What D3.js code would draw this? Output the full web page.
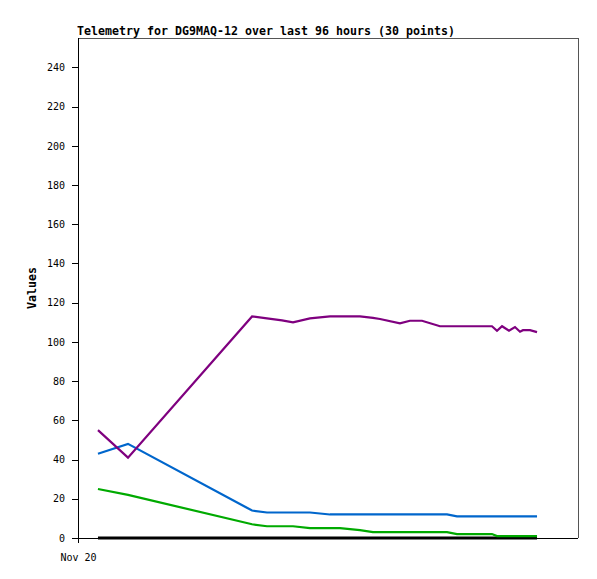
<!DOCTYPE html>
<html>
<head>
<meta charset="utf-8">
<script src="https://cdn.jsdelivr.net/npm/d3@7"></script>
<style>
  body { margin: 0; background: #fff; }
  text { font-family: "DejaVu Sans Mono", monospace; }
</style>
</head>
<body>
<div id="chart"></div>
<script>
// sample times (30 points)
const times = [
  "2023-11-20T03:50", "2023-11-20T09:36", "2023-11-21T09:25", "2023-11-21T12:17",
  "2023-11-21T15:10", "2023-11-21T17:17", "2023-11-21T20:32", "2023-11-22T00:23",
  "2023-11-22T02:18", "2023-11-22T06:08", "2023-11-22T08:38", "2023-11-22T09:59",
  "2023-11-22T13:49", "2023-11-22T15:44", "2023-11-22T18:03", "2023-11-22T21:30",
  "2023-11-22T22:51", "2023-11-23T00:46", "2023-11-23T02:18", "2023-11-23T04:13",
  "2023-11-23T06:18", "2023-11-23T07:29", "2023-11-23T08:27", "2023-11-23T09:25",
  "2023-11-23T10:45", "2023-11-23T11:54", "2023-11-23T12:52", "2023-11-23T13:26",
  "2023-11-23T14:47", "2023-11-23T16:08"
];

const purple = [55, 41, 113, 112, 111, 110, 112, 113, 113, 113, 112.3, 111.7,
  109.5, 110.8, 110.8, 108, 108, 108, 108, 108, 108, 108, 105.7, 108, 105.7,
  107.6, 105.2, 106, 106, 105];
const blue = [43, 48, 14, 13, 13, 13, 13, 12, 12, 12, 12, 12, 12, 12, 12, 12,
  12, 11, 11, 11, 11, 11, 11, 11, 11, 11, 11, 11, 11, 11];
const green = [25, 22, 7, 6, 6, 6, 5, 5, 5, 4, 3, 3, 3, 3, 3, 3, 3, 2, 2, 2, 2,
  2, 1, 1, 1, 1, 1, 1, 1, 1];
const black = [0, 0, 0, 0, 0, 0, 0, 0, 0, 0, 0, 0, 0, 0, 0, 0, 0, 0, 0, 0, 0,
  0, 0, 0, 0, 0, 0, 0, 0, 0];

const yTicks = [0, 20, 40, 60, 80, 100, 120, 140, 160, 180, 200, 220, 240];
const xTickLabels = ["Nov 20"];
const xTickDates = ["2023-11-20T00:00"];

const seriesList = [
  { name: "black", values: black, color: "#000000" },
  { name: "green", values: green, color: "#00aa00" },
  { name: "blue", values: blue, color: "#0066cc" },
  { name: "purple", values: purple, color: "#7f007f" }
];

const width = 597, height = 579;
const margin = { top: 38, right: 19, bottom: 41, left: 78 };
const parse = d3.timeParse("%Y-%m-%dT%H:%M");

const svg = d3.select("#chart").append("svg")
    .attr("width", width)
    .attr("height", height);

const xScale = d3.scaleTime()
    .domain([parse("2023-11-20T00:00"), parse("2023-11-24T00:00")])
    .range([margin.left, width - margin.right]);

const yScale = d3.scaleLinear()
    .domain([0, 255])
    .range([height - margin.bottom, margin.top]);

// frame (top & right in grey)
svg.append("path")
    .attr("d", `M${margin.left},${margin.top}H${width - margin.right}V${height - margin.bottom}`)
    .attr("fill", "none")
    .attr("stroke", "#555")
    .attr("stroke-width", 1)
    .attr("shape-rendering", "crispEdges");

// y axis
const yAxis = svg.append("g")
    .attr("transform", `translate(${margin.left},0)`)
    .call(d3.axisLeft(yScale).tickValues(yTicks).tickSize(6).tickPadding(7).tickSizeOuter(0));
yAxis.select(".domain").attr("d", `M0.5,${margin.top}V${height - margin.bottom + 5}`);

// x axis
const xAxis = svg.append("g")
    .attr("transform", `translate(0,${height - margin.bottom})`)
    .call(d3.axisBottom(xScale)
      .tickValues(xTickDates.map(parse))
      .tickFormat((d, i) => xTickLabels[i])
      .tickSize(5).tickPadding(11).tickSizeOuter(0));
xAxis.select(".domain").attr("d", `M${margin.left - 6},0.5H${width - margin.right}`);

svg.selectAll(".tick text")
    .attr("font-family", "DejaVu Sans Mono")
    .attr("font-size", 10)
    .attr("fill", "#000");
svg.selectAll(".domain, .tick line")
    .attr("stroke", "#000")
    .attr("shape-rendering", "crispEdges");

// lines
const line = d3.line()
    .x((d, i) => xScale(parse(times[i])))
    .y(d => yScale(d));

svg.append("g").selectAll("path")
    .data(seriesList)
    .join("path")
    .attr("d", d => line(d.values))
    .attr("fill", "none")
    .attr("stroke", d => d.color)
    .attr("stroke-width", d => d.name === "black" ? 3 : 2.2);

// title
svg.append("text")
    .attr("x", 77)
    .attr("y", 35)
    .attr("font-size", 11.6)
    .attr("font-weight", "bold")
    .attr("textLength", 378)
    .text("Telemetry for DG9MAQ-12 over last 96 hours (30 points)");

// y label
svg.append("text")
    .attr("transform", `translate(36,${(margin.top + height - margin.bottom) / 2}) rotate(-90)`)
    .attr("text-anchor", "middle")
    .attr("font-size", 11.6)
    .attr("font-weight", "bold")
    .text("Values");
</script>
</body>
</html>
